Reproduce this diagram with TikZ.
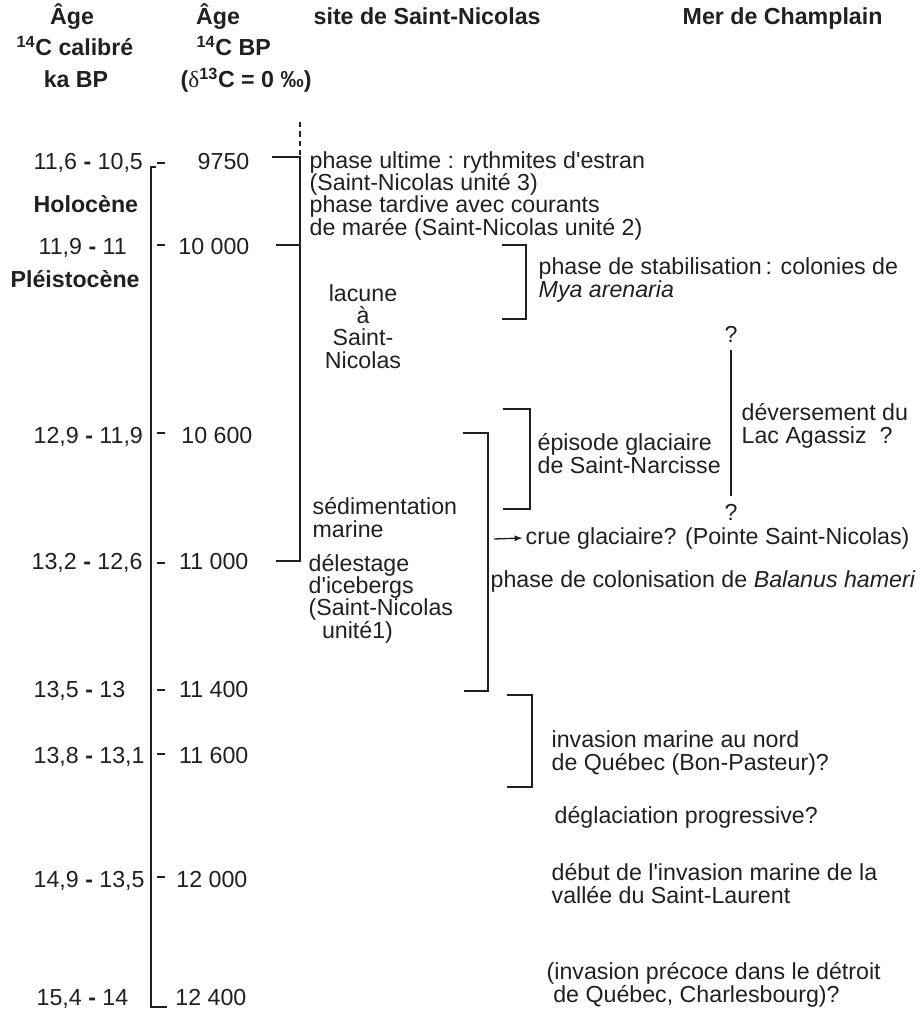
\documentclass[tikz,border=0pt]{standalone}
\usepackage{fontspec}
\setmainfont{Liberation Sans}[Ligatures=TeXOff]
\newfontfamily\greekfont{Liberation Serif}
\usetikzlibrary{positioning}
\definecolor{ink}{HTML}{231F20}
\begin{document}
\begin{tikzpicture}[x=0.75pt,y=-0.75pt,line width=1pt,draw=ink,
  every node/.style={inner sep=0pt,anchor=base west,align=left,text=ink,
    font=\fontsize{17.4}{16.6}\selectfont},
  head/.style={font=\fontsize{17.4}{16.6}\selectfont\bfseries},
  agebp/.style={anchor=base east}]
\useasboundingbox (0,0) rectangle (922,1009);
\node[head,anchor=base] (agecal) at (72,25) {Âge};
\node[head,anchor=base] (calib) at (75,56) {\textsuperscript{14}C calibré};
\node[head,anchor=base] (kabp) at (76,88) {ka BP};
\node[head,anchor=base] (agec) at (218,25) {Âge};
\node[head] (cbp) at (196,56) {\textsuperscript{14}C BP};
\node[head] (delta) at (180,88) {({\greekfont\mdseries δ}\textsuperscript{13}C = 0 ‰)};
\node[head] (site) at (313,25) {site de Saint-Nicolas};
\node[head] (mer) at (682,25) {Mer de Champlain};
\node (c1) at (33,170) {11,6 {\bfseries -} 10,5};
\node[head] (holo) at (33,213) {Holocène};
\node (c2) at (38,254) {11,9 {\bfseries -} 11};
\node[head] (pleis) at (10,287) {Pléistocène};
\node (c3) at (33,443) {12,9 {\bfseries -} 11,9};
\node (c4) at (31,569) {13,2 {\bfseries -} 12,6};
\node (c5) at (33,697) {13,5 {\bfseries -} 13};
\node (c6) at (33,763) {13,8 {\bfseries -} 13,1};
\node (c7) at (33,887) {14,9 {\bfseries -} 13,5};
\node (c8) at (36,1005) {15,4 {\bfseries -} 14};
\node[agebp] (r1) at (250,170) {9750};
\node[agebp] (r2) at (250,254) {10 000};
\node[agebp] (r3) at (253,443) {10 600};
\node[agebp] (r4) at (249,569) {11 000};
\node[agebp] (r5) at (249,697) {11 400};
\node[agebp] (r6) at (249,763) {11 600};
\node[agebp] (r7) at (248,887) {12 000};
\node[agebp] (r8) at (247,1005) {12 400};
\node (ultime) at (309,235) {phase ultime : rythmites d'estran\\(Saint-Nicolas unité 3)\\phase tardive avec courants\\de marée (Saint-Nicolas unité 2)};
\node[anchor=base,align=center] (lacune) at (363,368) {lacune\\à\\Saint-\\Nicolas};
\node (sedim) at (312,537) {sédimentation\\marine};
\node (delest) at (308,638) {délestage\\d'icebergs\\(Saint-Nicolas\\\hspace*{10pt}unité1)};
\node (stabil) at (538,297) {phase de stabilisation\,: colonies de\\\textit{Mya arenaria}};
\node (narc) at (537,473) {épisode glaciaire\\de Saint-Narcisse};
\node[anchor=base] (qtop) at (731,342) {?};
\node[anchor=base] (qbot) at (731,520) {?};
\node (agassiz) at (741,443) {déversement du\\Lac Agassiz\ \ ?};
\node (crue) at (525,544) {crue glaciaire? (Pointe Saint-Nicolas)};
\node (balanus) at (490,587) {phase de colonisation de \textit{Balanus hameri}};
\node (nord) at (551,770) {invasion marine au nord\\de Québec (Bon-Pasteur)?};
\node (degla) at (554,823) {déglaciation progressive?};
\node (debut) at (551,903) {début de l'invasion marine de la\\vallée du Saint-Laurent};
\node (precoce) at (546,1002) {(invasion précoce dans le détroit\\\hspace*{5pt}de Québec, Charlesbourg)?};
\coordinate (arr) at (494,539);
\draw (156,167) -- (151,167) -- (151,1007) -- (167,1007);
\draw (157,163) -- (165,163);
\draw (157,245) -- (165,245);
\draw (157,433) -- (165,433);
\draw (157,563) -- (165,563);
\draw (157,690) -- (165,690);
\draw (157,754) -- (165,754);
\draw (157,877) -- (165,877);
\draw[dash pattern=on 4pt off 3pt] (300,122) -- (300,155);
\draw (272,157) -- (300,157) -- (300,561) -- (276,561);
\draw (276,245) -- (300,245);
\draw (502,245) -- (526,245) -- (526,319) -- (502,319);
\draw (503,409) -- (530,409) -- (530,509) -- (503,509);
\draw (463,433) -- (488,433) -- (488,691) -- (464,691);
\draw (507,695) -- (532,695) -- (532,787) -- (507,787);
\draw ([yshift=-6pt]qtop.base) -- ([yshift=5pt]qbot.north);
\draw[-latex] (arr) -- ([xshift=-2pt]crue.west);
\end{tikzpicture}
\end{document}
